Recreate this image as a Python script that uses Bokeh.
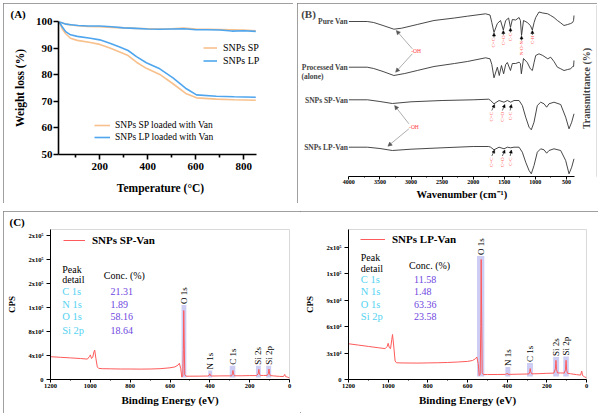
import math
from bokeh.plotting import figure
from bokeh.models import (Range1d, FixedTicker, Label, LabelSet, Legend, LegendItem,
                          Arrow, NormalHead, ColumnDataSource)
from bokeh.layouts import row, column
from bokeh.embed import file_html
from bokeh.resources import INLINE
from bokeh.core.properties import value

SERIF = "Liberation Serif"
NBSP = "\u00a0"

# ---------------- (A) TGA data ----------------
tga_temp = [30, 45, 60, 80, 110, 150, 200, 250, 300, 350, 400, 450, 500, 550, 600, 650, 700, 750, 800, 850]
tga_snps_sp = [100, 99.4, 99.0, 98.7, 98.4, 98.1, 98.0, 97.8, 97.6, 97.4, 97.3, 97.2, 97.3, 97.5, 97.2, 97.1, 97.0, 96.9, 96.8, 96.5]
tga_snps_lp = [100, 99.4, 99.0, 98.8, 98.5, 98.3, 98.3, 98.0, 97.6, 97.4, 97.2, 97.1, 97.2, 97.3, 96.9, 96.9, 96.8, 96.4, 96.5, 96.3]
tga_temp_van = [30, 44, 58, 78, 106, 161, 200, 242, 283, 318, 353, 394, 450, 505, 561, 603, 686, 760, 850]
tga_sp_van = [100, 97.2, 95.4, 93.7, 92.9, 92.1, 91.4, 90.0, 88.5, 87.2, 84.7, 82.4, 80.1, 76.6, 72.8, 71.3, 70.8, 70.6, 70.4]
tga_lp_van = [100, 97.9, 96.2, 95.0, 94.4, 93.7, 93.1, 91.8, 90.4, 89.1, 86.8, 84.5, 82.2, 78.8, 74.7, 72.4, 71.9, 71.7, 71.5]
tga_x_ticks = [200, 400, 600, 800]
tga_x_minor = [100, 300, 500, 700]
tga_y_ticks = [50, 60, 70, 80, 90, 100]

# ---------------- (B) FTIR data (offset transmittance, a.u.) ----------------
pure_wn = [4000, 3705, 3600, 3450, 3276, 3150, 2900, 2631, 2300, 2094, 1800, 1729, 1700, 1665, 1611, 1560, 1515, 1477,
           1430, 1400, 1370, 1316, 1262, 1240, 1222, 1190, 1130, 1080, 1048, 1020, 994, 941, 880, 800, 753, 700, 645,
           600, 539, 480, 431, 400, 385, 378]
pure_t = [155, 155, 154, 151, 147.3, 148.3, 152, 156, 158.5, 160.3, 162.7, 161.5, 154, 144, 153, 156, 146.5, 156,
          158.5, 149, 157, 156.5, 159, 156, 141, 156, 154, 151, 146.5, 154, 159, 164.5, 163.5, 162.7, 161, 159, 156,
          154, 151, 152, 153, 154, 156, 161]
proc_wn = [4000, 3705, 3600, 3450, 3276, 3100, 2900, 2631, 2300, 2094, 1800, 1729, 1700, 1665, 1611, 1580, 1545, 1510,
           1477, 1450, 1400, 1370, 1316, 1262, 1240, 1225, 1190, 1130, 1080, 1048, 1020, 994, 941, 880, 800, 753, 700,
           645, 600, 539, 480, 431, 400, 385, 378]
proc_t = [109.3, 109.3, 108, 105, 101, 103, 106, 110, 113, 115, 118.7, 117.7, 112, 98.7, 109.3, 101, 111, 102.7,
          112, 114, 106, 113, 113, 114.3, 113, 102.7, 118, 114, 107.7, 106, 114, 121, 122.7, 121, 117.7, 119.3, 115,
          109.3, 108, 106, 107, 107.7, 110, 110, 116]
snp_wn = [4000, 3700, 3500, 3300, 3000, 2500, 2000, 1750, 1719, 1665, 1584, 1504, 1450, 1397, 1343, 1262, 1209, 1155,
          1101, 1065, 1021, 968, 914, 860, 818, 780, 700, 592, 512, 458, 415, 378]
sp_van_t = [76.7, 76.7, 75, 73, 74.7, 76, 76.7, 77.3, 76, 72.7, 76, 74.3, 76, 74.3, 76, 76, 71, 59.3,
            49.3, 46.7, 54.3, 71, 74.3, 72.7, 69.3, 72.7, 74.3, 72, 59.3, 47.7, 54.3, 62.7]
lp_van_t = [29.3, 29.3, 28, 26, 27.3, 28.7, 30, 30, 29.3, 26.7, 29.3, 27.7, 29.3, 28.7, 29.3, 29.3, 24.3, 14.3,
            6, 2.7, 11, 24.3, 27.7, 26.7, 23.3, 26, 27.7, 26, 16, 2.7, 9.3, 17.7]
trace_names = ["Pure Van", "Processed Van", "SNPs SP-Van", "SNPs LP-Van"]
trace_name_t = [155, 109, 76, 29]
ftir_ticks = [4000, 3500, 3000, 2500, 2000, 1500, 1000, 500]
ftir_minor = [3750, 3250, 2750, 2250, 1750, 1250, 750]
pure_peak_names = ["C=C", "C=O", "C-C", "N-O-N", "C-H"]
pure_peak_wn = [1665, 1515, 1400, 1222, 1048]
pure_arrow_head = [143.5, 146, 148.5, 140.5, 146]
pure_arrow_tail = [139, 141.5, 144, 136, 141.5]
snp_peak_names = ["C=C", "C=O", "C-C"]
snp_label_wn = [1700, 1530, 1405]
snp_head_wn = [1655, 1490, 1385]
sp_arrow_tail, sp_arrow_head, sp_label_top = 66, 72, 64.5
lp_arrow_tail, lp_arrow_head, lp_label_top = 20.5, 26.5, 19
oh_text_wn = [2918, 2953]
oh_text_t = [125.3, 50]
oh_start_wn = [2979, 2979, 3034, 3034]
oh_start_t = [127.7, 122.7, 52.7, 47.7]
oh_end_wn = [3237, 3248, 3264, 3372]
oh_end_t = [146, 104.3, 71, 30.3]

# ---------------- (C) XPS data ----------------
xps_be = [1200, 1150, 1100, 1050, 1015, 1005, 1000, 994, 988, 982, 978, 972, 965, 958, 940, 900, 850, 800, 750, 700,
          650, 600, 575, 560, 553, 546, 541, 536, 533, 531, 529, 526, 520, 500, 450, 410, 403, 400, 397, 390, 350,
          300, 290, 286, 284, 281, 276, 240, 200, 165, 157, 154, 151, 146, 130, 112, 106, 103, 100, 96, 80, 50, 30,
          26, 24, 20, 10, 0]
xps_sp = [38000, 37000, 36000, 35000, 34000, 38000, 41000, 35000, 37000, 46000, 49000, 35000, 21000, 18500, 18000,
          17800, 17500, 17500, 17300, 17500, 18000, 19500, 21000, 24000, 27000, 18000, 4000, 6000, 50000, 115000,
          70000, 8000, 5500, 5500, 5600, 5800, 7000, 9500, 6500, 5800, 6000, 6100, 6300, 10000, 15000, 9000, 6200,
          6200, 6500, 6500, 10000, 17000, 9000, 6800, 6700, 6800, 10000, 17500, 9500, 6500, 6000, 5200, 5000, 7500,
          8500, 5000, 4000, 2500]
xps_lp = [40500, 39000, 37500, 36000, 35000, 37500, 41000, 36000, 35000, 45000, 51000, 38000, 21000, 19000, 18800,
          18700, 18600, 18800, 19000, 19300, 19800, 20500, 21500, 23500, 25500, 18000, 4500, 6000, 60000, 136000,
          80000, 8000, 5600, 5600, 5700, 5800, 6300, 7000, 6000, 5800, 6000, 6200, 6400, 9000, 12400, 8500, 6400,
          6600, 7000, 7200, 12000, 21700, 11000, 7400, 7400, 7300, 11000, 21700, 10500, 7000, 6500, 5500, 5000, 8000,
          9500, 4500, 3000, 2000]
peak_names = ["O 1s", "N 1s", "C 1s", "Si 2s", "Si 2p"]
sp_band_hi = [542, 408, 300, 168, 117]
sp_band_lo = [518, 388, 272, 144, 92]
sp_band_top = [124000, 15000, 23000, 23000, 23000]
lp_band_hi = [552, 409, 300, 168, 117]
lp_band_lo = [515, 384, 270, 138, 89]
lp_band_top = [140000, 14200, 18700, 25500, 26000]
band_bottom = 3500
detail_elements = ["C 1s", "N 1s", "O 1s", "Si 2p"]
sp_conc = ["21.31", "1.89", "58.16", "18.64"]
lp_conc = ["11.58", "1.48", "63.36", "23.58"]
xps_x_ticks = [1200, 1000, 800, 600, 400, 200, 0]
xps_x_minor = [1100, 900, 700, 500, 300, 100]
sp_y_ticks = [0, 40000, 80000, 120000, 160000, 200000, 240000]
sp_y_labels = ["0", "4x10⁴", "8x10⁴", "1x10⁵", "2x10⁵", "2x10⁵", "2x10⁵"]
lp_y_ticks = [0, 30000, 60000, 90000, 120000, 150000]
lp_y_labels = ["0", "3x10⁴", "6x10⁴", "9x10⁴", "1x10⁵", "2x10⁵"]

ORANGE = "#F7C08C"
BLUE = "#4FA6EE"
RED = "#FF5A5A"
CYAN = "#55D2F2"
PURPLE = "#6E46E0"
BOX = {"outline": "1.5px solid #808080", "outline-offset": "-1.5px"}


def base_fig(w, h, xr, yr, mb, **kw):
    p = figure(width=w, height=h, x_range=xr, y_range=yr, output_backend="svg", toolbar_location=None,
               min_border_left=mb[0], min_border_right=mb[1], min_border_top=mb[2], min_border_bottom=mb[3], **kw)
    p.grid.visible = False
    p.background_fill_color = "white"
    p.border_fill_color = "white"
    return p


def style_axis(ax, tick_px, lab_px, lw, tick_out, lstand, astand):
    ax.axis_line_color = "black"
    ax.axis_line_width = lw
    ax.major_tick_line_color = "black"
    ax.major_tick_line_width = lw
    ax.minor_tick_line_color = "black"
    ax.minor_tick_line_width = lw
    ax.major_tick_in = 0
    ax.major_tick_out = tick_out
    ax.minor_tick_in = 0
    ax.minor_tick_out = max(1, tick_out - 2)
    ax.major_label_text_font = SERIF
    ax.major_label_text_font_style = "bold"
    ax.major_label_text_font_size = tick_px
    ax.major_label_text_color = "black"
    ax.axis_label_text_font = SERIF
    ax.axis_label_text_font_style = "bold"
    ax.axis_label_text_font_size = lab_px
    ax.axis_label_text_color = "black"
    ax.major_label_standoff = lstand
    ax.axis_label_standoff = astand


def legend(items, loc, gw, h, standoff, size, style="normal"):
    return Legend(items=items, location=loc, glyph_width=gw, glyph_height=h, label_height=h,
                  label_standoff=standoff, spacing=0, padding=0, margin=0, border_line_color=None,
                  background_fill_alpha=0, label_text_font=SERIF, label_text_font_size=size,
                  label_text_font_style=style, label_text_color="black")


def panel_title(p, txt, offset, standoff):
    p.title.text = txt
    p.title.align = "left"
    p.title.offset = offset
    p.title.standoff = standoff
    p.title.text_font = SERIF
    p.title.text_font_style = "bold"
    p.title.text_font_size = "11px"
    p.title.text_color = "black"


# ================= Panel A =================
pA = base_fig(290, 200, Range1d(28, 878), Range1d(50, 100), (55, 31, 18, 49))
pA.outline_line_color = None
style_axis(pA.xaxis[0], "11px", "11.5px", 1.6, 5, 3, 9)
style_axis(pA.yaxis[0], "11px", "11.5px", 1.6, 5, 1, 7)
pA.xaxis[0].ticker = FixedTicker(ticks=tga_x_ticks, minor_ticks=tga_x_minor)
pA.xaxis[0].bounds = (28, 853)
pA.yaxis[0].ticker = FixedTicker(ticks=tga_y_ticks)
pA.xaxis[0].axis_label = "Temperature (°C)"
pA.yaxis[0].axis_label = "Weight loss (%)"
r_sp = pA.line(tga_temp, tga_snps_sp, color=ORANGE, line_width=1.6)
r_lp = pA.line(tga_temp, tga_snps_lp, color=BLUE, line_width=1.6)
r_spv = pA.line(tga_temp_van, tga_sp_van, color=ORANGE, line_width=1.6)
r_lpv = pA.line(tga_temp_van, tga_lp_van, color=BLUE, line_width=1.6)
pA.add_layout(legend([LegendItem(label="SNPs SP", renderers=[r_sp]),
                      LegendItem(label="SNPs LP", renderers=[r_lp])], (145, 87), 14, 13, 6, "10px"))
pA.add_layout(legend([LegendItem(label="SNPs SP loaded with Van", renderers=[r_spv]),
                      LegendItem(label="SNPs LP loaded with Van", renderers=[r_lpv])], (36, 11), 16, 12, 5, "9.5px"))
panel_title(pA, "(A)", -48, 4)
pA.styles = BOX

# ================= Panel B =================
pB = base_fig(300, 200, Range1d(4810, 16), Range1d(0, 171), (1, 1, 2, 27), y_axis_location=None, title=None)
pB.outline_line_color = None
style_axis(pB.xaxis[0], "6px", "10.5px", 1, 3, 0, 2)
pB.xaxis[0].ticker = FixedTicker(ticks=ftir_ticks, minor_ticks=ftir_minor)
pB.xaxis[0].bounds = (370, 4000)
pB.xaxis[0].axis_label = NBSP * 11 + "Wavenumber (cm⁻¹)"
for wn, tt in [(pure_wn, pure_t), (proc_wn, proc_t), (snp_wn, sp_van_t), (snp_wn, lp_van_t)]:
    pB.line(wn, tt, color="#333333", line_width=0.9)

for txt, yy in zip(trace_names, trace_name_t):
    pB.add_layout(Label(x=4000, y=yy, x_offset=-1, text=txt, text_font=SERIF, text_font_style="bold",
                        text_font_size="7.5px", text_align="right", text_baseline="middle"))
pB.add_layout(Label(x=3, y=100, x_units="screen", text="(alone)", text_font=SERIF, text_font_style="bold",
                    text_font_size="7.5px", text_align="left", text_baseline="middle"))
pB.add_layout(Label(x=10, y=163, x_units="screen", y_units="screen", text="(B)", text_font=SERIF,
                    text_font_style="bold", text_font_size="11px", text_align="center", text_baseline="middle"))
pB.add_layout(Label(x=288, y=88, x_units="screen", y_units="screen", text="Transmittance (%)", angle=math.pi / 2,
                    text_font=SERIF, text_font_style="bold", text_font_size="10px", text_align="center",
                    text_baseline="middle"))

# peak arrows and labels
pk_src = ColumnDataSource(dict(x0=pure_peak_wn, y0=pure_arrow_tail, x1=pure_peak_wn, y1=pure_arrow_head))
pB.add_layout(Arrow(end=NormalHead(size=3, fill_color="black", line_color="black", line_width=0.5),
                    source=pk_src, x_start="x0", y_start="y0", x_end="x1", y_end="y1",
                    line_color="black", line_width=0.6))
lab_src = ColumnDataSource(dict(x=pure_peak_wn, y=[t - 0.5 for t in pure_arrow_tail], t=pure_peak_names))
pB.add_layout(LabelSet(x="x", y="y", text="t", source=lab_src, angle=math.pi / 2, text_align="right",
                       text_baseline="middle", text_font=value(SERIF), text_font_size="5px", text_color="#FF5050"))
for tail, hd, top in [(sp_arrow_tail, sp_arrow_head, sp_label_top), (lp_arrow_tail, lp_arrow_head, lp_label_top)]:
    n = len(snp_label_wn)
    s = ColumnDataSource(dict(x0=snp_label_wn, y0=[tail] * n, x1=snp_head_wn, y1=[hd] * n))
    pB.add_layout(Arrow(end=NormalHead(size=3, fill_color="black", line_color="black", line_width=0.5),
                        source=s, x_start="x0", y_start="y0", x_end="x1", y_end="y1",
                        line_color="black", line_width=0.6))
    ls = ColumnDataSource(dict(x=snp_label_wn, y=[top] * n, t=snp_peak_names))
    pB.add_layout(LabelSet(x="x", y="y", text="t", source=ls, angle=math.pi / 2, text_align="right",
                           text_baseline="middle", text_font=value(SERIF), text_font_size="5px",
                           text_color="#FF5050"))
oh_src = ColumnDataSource(dict(x0=oh_start_wn, y0=oh_start_t, x1=oh_end_wn, y1=oh_end_t))
pB.add_layout(Arrow(end=NormalHead(size=4, fill_color="#555555", line_color="#555555", line_width=0.5),
                    source=oh_src, x_start="x0", y_start="y0", x_end="x1", y_end="y1",
                    line_color="#777777", line_width=0.6))
for xx, yy in zip(oh_text_wn, oh_text_t):
    pB.add_layout(Label(x=xx, y=yy, text="-OH", text_font=SERIF, text_font_size="5.5px", text_color="#FF4040",
                        text_align="center", text_baseline="middle"))
pB.styles = BOX


# ================= Panel C =================
def xps_fig(w, mb, ymax, yticks, ylabels, counts, hi, lo, top, name, conc, tab, leg_loc, leg_gw, **kw):
    p = base_fig(w, 202, Range1d(1200, 0), Range1d(0, ymax), mb, **kw)
    p.outline_line_color = "#D9D9D9"
    p.outline_line_width = 1
    style_axis(p.xaxis[0], "6.5px", "11px", 1, 3, 1, 3)
    style_axis(p.yaxis[0], "6.5px", "9px", 1, 4, 3, 9)
    p.xaxis[0].ticker = FixedTicker(ticks=xps_x_ticks, minor_ticks=xps_x_minor)
    p.yaxis[0].ticker = FixedTicker(ticks=yticks)
    p.yaxis[0].major_label_overrides = {t: l for t, l in zip(yticks, ylabels)}
    p.xaxis[0].axis_label = "Binding Energy (eV)"
    p.yaxis[0].axis_label = "CPS"
    p.quad(left=hi, right=lo, top=top, bottom=band_bottom, fill_color="#C4C4F2", fill_alpha=0.85, line_color=None)
    r = p.line(xps_be, counts, color=RED, line_width=1)
    p.text(x=[(a + b) / 2 for a, b in zip(hi, lo)], y=top, text=peak_names, angle=math.pi / 2,
           text_align="left", text_baseline="middle", text_font=value(SERIF), text_font_size="9px",
           text_color="black", y_offset=-1)
    p.add_layout(legend([LegendItem(label=name, renderers=[r])], leg_loc, leg_gw, 14, 7, "11px", "bold"))
    px, pyy, py2, cx, cy, ex, vx, rows = tab
    for txt, xx, yy in [("Peak", px, pyy), ("detail", px, py2), ("Conc. (%)", cx, cy)]:
        p.add_layout(Label(x=xx, y=yy, x_units="screen", y_units="screen", text=txt, text_font=SERIF,
                           text_font_size="10px", text_color="black", text_baseline="middle"))
    for el, cv, yy in zip(detail_elements, conc, rows):
        p.add_layout(Label(x=ex, y=yy, x_units="screen", y_units="screen", text=el, text_font=SERIF,
                           text_font_size="10.5px", text_color=CYAN, text_baseline="middle"))
        p.add_layout(Label(x=vx, y=yy, x_units="screen", y_units="screen", text=cv, text_font=SERIF,
                           text_font_size="10px", text_color=PURPLE, text_baseline="middle"))
    return p


pCL = xps_fig(297, (47, 11, 18, 34), 250000, sp_y_ticks, sp_y_labels, xps_sp, sp_band_hi, sp_band_lo, sp_band_top,
              "SNPs SP-Van", sp_conc, (11.7, 110.3, 100, 53.3, 104.3, 11.7, 60, [88.3, 75, 62.6, 49.3]), (13, 132), 22)
panel_title(pCL, "(C)", -41, 3)
pCR = xps_fig(298, (48, 12, 17, 34), 170000, lp_y_ticks, lp_y_labels, xps_lp, lp_band_hi, lp_band_lo, lp_band_top,
              "SNPs LP-Van", lp_conc, (12.3, 121.6, 111, 60.6, 114.3, 12.3, 65.6, [100.3, 88.3, 75, 62.6]),
              (12, 133), 25, title=None)

rowC = row(pCL, pCR, styles=BOX)
top_row = row(column(pA), column(pB), spacing=4)
root = column(top_row, rowC, spacing=8, margin=(3, 0, 0, 3))

open("out.html", "w").write(file_html(root, INLINE))
